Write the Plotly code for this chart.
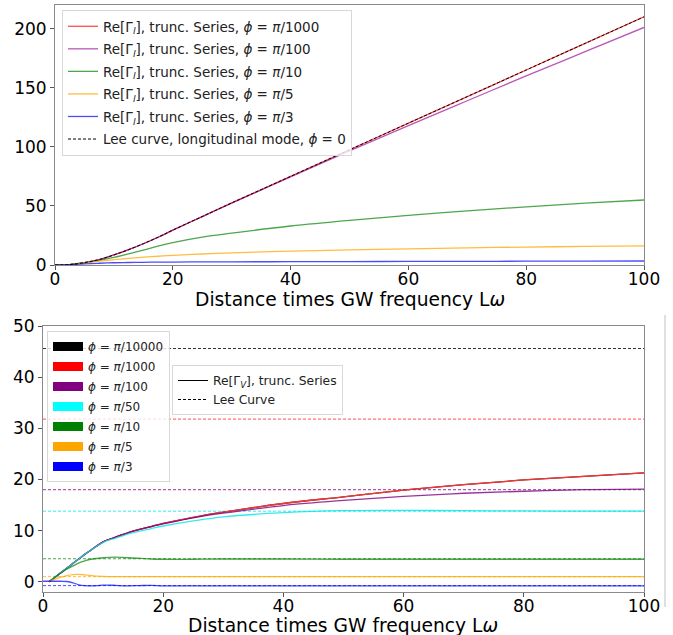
import plotly.graph_objects as go

# ---------------- top panel data ----------------
x_top = [0, 2.5, 5, 7.5, 10, 12.5, 15, 17.5, 20, 25, 30, 40, 50, 60, 70, 80, 90, 100]
lee_long = [0, 0.4, 2, 4.6, 8.5, 13, 18, 23.5, 29.5, 41, 52.5, 75, 97.5, 120, 142.5, 165, 187.5, 210]
gl_1000 = [0, 0.4, 2, 4.6, 8.5, 13, 18, 23.5, 29.5, 41, 52.5, 75, 97.5, 120, 142.5, 165, 187.5, 210]
gl_100 = [0, 0.4, 2, 4.6, 8.5, 13, 18, 23.5, 29.5, 41, 52.3, 74.5, 96.5, 118, 139, 160, 180.5, 201]
gl_10 = [0, 0.4, 2, 4, 6.5, 9.5, 12.5, 16, 19, 23.6, 27, 33, 37.8, 42, 45.8, 49.2, 52.3, 55]
gl_5 = [0, 0.4, 1.8, 3.2, 4.5, 5.6, 6.6, 7.4, 8.1, 9.3, 10.3, 11.7, 12.8, 13.7, 14.5, 15.2, 15.7, 16.2]
gl_3 = [0, 0.3, 1.0, 1.5, 1.9, 2.1, 2.3, 2.4, 2.5, 2.6, 2.7, 2.8, 2.9, 3.0, 3.1, 3.2, 3.3, 3.4]

# ---------------- bottom panel data ----------------
x_bot = [1, 2, 3, 4, 5, 6, 7, 8, 10, 12, 15, 18, 20, 25, 30, 40, 50, 60, 70, 80, 90, 100]
gv_10000 = [0, 0.9, 1.8, 2.7, 3.6, 4.5, 5.4, 6.2, 7.8, 8.7, 9.9, 10.8, 11.4, 12.6, 13.6, 15.3, 16.6, 17.9, 19.0, 19.9, 20.6, 21.3]
gv_1000 = [0, 0.9, 1.8, 2.7, 3.6, 4.5, 5.4, 6.2, 7.8, 8.7, 9.9, 10.8, 11.4, 12.6, 13.6, 15.3, 16.6, 17.9, 19.0, 19.9, 20.6, 21.3]
gv_100 = [0, 0.9, 1.8, 2.7, 3.6, 4.5, 5.4, 6.2, 7.8, 8.7, 9.9, 10.8, 11.3, 12.5, 13.4, 14.9, 15.9, 16.7, 17.3, 17.7, 18.0, 18.1]
gv_50 = [0, 0.9, 1.8, 2.7, 3.6, 4.5, 5.4, 6.2, 7.7, 8.5, 9.6, 10.4, 10.9, 11.9, 12.7, 13.5, 13.9, 13.95, 13.9, 13.85, 13.8, 13.8]
gv_10 = [0, 0.9, 1.7, 2.5, 3.1, 3.7, 4.1, 4.4, 4.7, 4.8, 4.65, 4.45, 4.4, 4.4, 4.45, 4.45, 4.4, 4.4, 4.4, 4.4, 4.4, 4.4]
gv_5 = [0, 0.5, 0.9, 1.2, 1.4, 1.45, 1.35, 1.2, 1.05, 1.0, 1.0, 1.0, 1.0, 1.0, 1.0, 1.0, 1.0, 1.0, 1.0, 1.0, 1.0, 1.0]
x_blue = [0, 1, 2, 3, 4, 5, 6, 7, 8, 9, 10, 11, 12, 14, 16, 18, 20, 25, 30, 40, 60, 80, 100]
gv_3 = [0.1, 0.1, 0.1, 0.1, 0.05, -0.2, -0.6, -0.75, -0.8, -0.75, -0.65, -0.65, -0.7, -0.8, -0.75, -0.7, -0.8, -0.8, -0.8, -0.8, -0.8, -0.8, -0.8]
lee_v = [45.6, 31.8, 18.0, 13.8, 4.5, 1.0, -0.75]

phi_labels_bot = ["π/10000", "π/1000", "π/100", "π/50", "π/10", "π/5", "π/3"]
colors_bot = ["black", "red", "purple", "cyan", "green", "orange", "blue"]
phi_labels_top = ["π/1000", "π/100", "π/10", "π/5", "π/3"]
colors_top = ["red", "#a020a0", "green", "orange", "blue"]
x_title = "Distance times GW frequency L<i>ω</i>"

rgba = {"red": "rgba(255,0,0,0.7)", "#a020a0": "rgba(160,32,160,0.75)", "purple": "rgba(128,0,128,0.8)",
        "green": "rgba(0,128,0,0.7)", "orange": "rgba(255,165,0,0.75)", "blue": "rgba(0,0,255,0.7)",
        "cyan": "rgba(0,230,230,0.8)", "black": "rgba(0,0,0,0.8)"}
solid_bot = {"black": "rgba(0,0,0,0.8)", "red": "rgb(255,50,50)", "purple": "rgba(128,0,128,0.8)",
             "cyan": "rgba(0,230,230,0.8)", "green": "rgba(0,128,0,0.7)", "orange": "rgba(255,165,0,0.75)",
             "blue": "rgba(0,0,255,0.7)"}

FONT = "DejaVu Sans"
fig = go.Figure()

# top panel
top_series = [gl_1000, gl_100, gl_10, gl_5, gl_3]
for i, (lab, col, ys) in enumerate(zip(phi_labels_top, colors_top, top_series)):
    p = lab.replace("π", "<i>π</i>")
    fig.add_trace(go.Scatter(x=x_top, y=ys, mode="lines", line=dict(color=rgba[col], width=1.3, shape="spline"),
                             name=f"Re[Γ<sub><i>l</i></sub>], trunc. Series, <i>ϕ</i> = {p}",
                             legendgroup=f"t{i}", xaxis="x", yaxis="y", legend="legend"))
fig.add_trace(go.Scatter(x=x_top, y=lee_long, mode="lines",
                         line=dict(color="black", width=1, dash="3px,2px", shape="spline"),
                         name="Lee curve, longitudinal mode, <i>ϕ</i> = 0", legendgroup="t9",
                         xaxis="x", yaxis="y", legend="legend"))

# bottom panel: Lee constants (dashed)
for col, val in zip(colors_bot, lee_v):
    fig.add_trace(go.Scatter(x=[0, 100], y=[val, val], mode="lines",
                             line=dict(color=rgba[col], width=1, dash="3px,2px"),
                             showlegend=False, xaxis="x2", yaxis="y2"))

bot_series = [(x_bot, gv_10000), (x_bot, gv_1000), (x_bot, gv_100), (x_bot, gv_50),
              (x_bot, gv_10), (x_bot, gv_5), (x_blue, gv_3)]
for col, (xs, ys) in zip(colors_bot, bot_series):
    fig.add_trace(go.Scatter(x=xs, y=ys, mode="lines", line=dict(color=solid_bot[col], width=1.3, shape="spline"),
                             showlegend=False, xaxis="x2", yaxis="y2"))

# legend 2: colour patches
for i, (lab, col) in enumerate(zip(phi_labels_bot, colors_bot)):
    p = lab.replace("π", "<i>π</i>")
    fig.add_trace(go.Scatter(x=[None], y=[None], mode="lines", line=dict(color=col, width=9),
                             name=f"<i>ϕ</i> = {p}", legendgroup=f"b{i}",
                             xaxis="x2", yaxis="y2", legend="legend2"))
# legend 3: line styles
fig.add_trace(go.Scatter(x=[None], y=[None], mode="lines", line=dict(color="black", width=1),
                         name="Re[Γ<sub><i>V</i></sub>], trunc. Series", xaxis="x2", yaxis="y2", legend="legend3"))
fig.add_trace(go.Scatter(x=[None], y=[None], mode="lines", line=dict(color="black", width=1, dash="3px,2px"),
                         name="Lee Curve", xaxis="x2", yaxis="y2", legend="legend3"))

W, H = 673, 635
def px(x): return x / W
def py(y): return 1 - y / H

axis_common = dict(showline=True, mirror=True, linecolor="#8a8a8a", linewidth=1, ticks="outside",
                   ticklen=4, tickcolor="#555", showgrid=False, zeroline=False, automargin=False,
                   tickfont=dict(family=FONT, size=17, color="black"))
title_font = dict(family=FONT, size=18.7, color="black")

fig.update_layout(
    width=W, height=H, autosize=False, margin=dict(l=0, r=0, t=0, b=0, pad=0),
    paper_bgcolor="white", plot_bgcolor="white",
    font=dict(family=FONT, color="black"),
    xaxis=dict(domain=[px(55), px(644)], range=[0, 100], tickvals=[0, 20, 40, 60, 80, 100],
               anchor="y", ticklabelstandoff=-5, **axis_common),
    yaxis=dict(domain=[py(265), py(5)], range=[0, 220], tickvals=[0, 50, 100, 150, 200], anchor="x",
               **axis_common),
    xaxis2=dict(domain=[px(43), px(644)], range=[0, 100], tickvals=[0, 20, 40, 60, 80, 100],
                anchor="y2", ticklabelstandoff=-5, **axis_common),
    yaxis2=dict(domain=[py(592), py(326)], range=[-2, 50], tickvals=[0, 10, 20, 30, 40, 50], anchor="x2",
                **axis_common),
    legend=dict(x=px(62), y=py(10), xanchor="left", yanchor="top", bgcolor="rgba(255,255,255,0.8)",
                bordercolor="#d8d8d8", borderwidth=1, font=dict(family=FONT, size=13.5, color="#222"),
                tracegroupgap=2),
    legend2=dict(x=px(47), y=py(331), xanchor="left", yanchor="top", bgcolor="rgba(255,255,255,0.8)",
                 bordercolor="#d8d8d8", borderwidth=1, font=dict(family=FONT, size=12, color="#222"),
                 tracegroupgap=1),
    legend3=dict(x=px(172), y=py(365), xanchor="left", yanchor="top", bgcolor="rgba(255,255,255,0.8)",
                 bordercolor="#d8d8d8", borderwidth=1, font=dict(family=FONT, size=12.3, color="#222")),
    annotations=[
        dict(text=x_title, xref="paper", yref="paper", x=px(350), y=py(299), xanchor="center", yanchor="middle",
             showarrow=False, font=title_font),
        dict(text=x_title, xref="paper", yref="paper", x=px(343), y=py(625), xanchor="center", yanchor="middle",
             showarrow=False, font=title_font),
    ],
    shapes=[dict(type="line", xref="paper", yref="paper", x0=px(665), x1=px(665), y0=py(315), y1=py(607),
                 line=dict(color="#c0c0c0", width=1))],
)

fig.write_html("out.html", post_script="document.body.style.margin='0';document.body.style.overflow='hidden';")
